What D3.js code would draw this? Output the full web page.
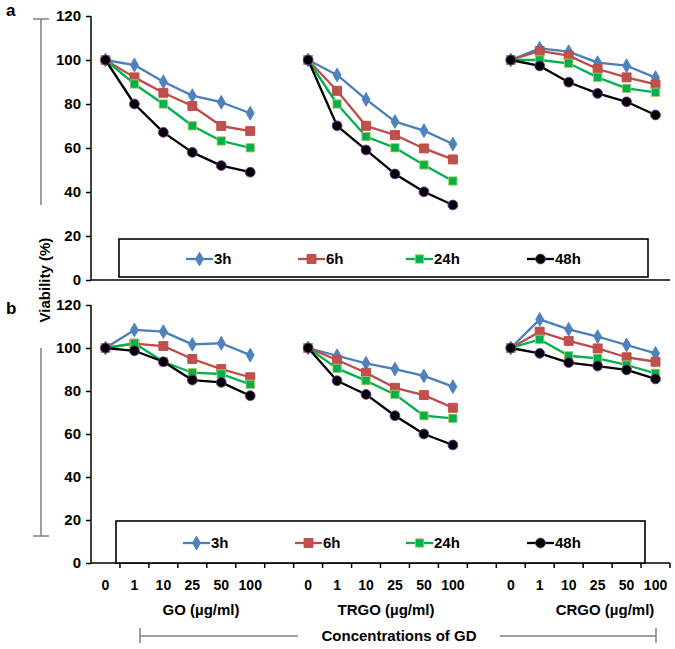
<!DOCTYPE html>
<html>
<head>
<meta charset="utf-8">
<script src="https://cdn.jsdelivr.net/npm/d3@7"></script>
<style>
  html, body { margin: 0; padding: 0; background: #fff; }
  svg { display: block; font-family: Arial, "Liberation Sans", sans-serif; font-weight: bold; }
</style>
</head>
<body>
<svg id="chart" width="675" height="649"></svg>
<script>
// ---------- data ----------
const groups = ["GO", "TRGO", "CRGO"];
const concentrations = ["0", "1", "10", "25", "50", "100"];
const seriesNames = ["3h", "6h", "24h", "48h"];
const yTicks = [0, 20, 40, 60, 80, 100, 120];
const groupLabels = ["GO (µg/ml)", "TRGO (µg/ml)", "CRGO (µg/ml)"];
const panelLabels = ["a", "b"];

// panel a values: GO(0..100), TRGO(0..100), CRGO(0..100)
const a3h  = [100, 97.7, 90.1, 83.8, 80.8, 75.8,  100, 93.2, 82.1, 72.0, 67.9, 61.8,  100, 105.3, 103.8, 98.8, 97.4, 92.0];
const a6h  = [100, 92.1, 85.1, 79.1, 70.0, 67.7,  100, 86.0, 70.1, 65.9, 59.8, 54.8,  100, 104.1, 102.0, 95.9, 92.1, 88.9];
const a24h = [100, 89.1, 80.0, 70.1, 63.2, 60.1,  100, 80.0, 65.2, 60.1, 52.3, 45.0,  100, 100.0, 98.5, 92.1, 87.1, 85.3];
const a48h = [100, 80.0, 67.1, 58.0, 52.0, 49.0,  100, 70.1, 59.1, 48.2, 40.1, 34.1,  100, 97.3, 89.9, 84.8, 81.0, 75.0];
// panel b values
const b3h  = [100, 108.4, 107.6, 101.7, 102.2, 96.7,  100, 96.4, 92.9, 90.2, 87.0, 82.0,  100, 113.3, 108.7, 105.3, 101.4, 97.5];
const b6h  = [100, 102.0, 100.9, 94.9, 90.2, 86.4,    100, 94.4, 88.5, 81.5, 78.1, 72.2,  100, 107.6, 103.3, 99.8, 95.7, 93.6];
const b24h = [100, 102.2, 93.6, 88.5, 87.9, 83.1,     100, 90.5, 84.8, 78.4, 68.5, 67.3,  100, 104.0, 96.4, 95.2, 92.1, 88.2];
const b48h = [100, 98.7, 93.6, 85.1, 84.0, 77.8,      100, 84.8, 78.4, 68.5, 60.0, 54.9,  100, 97.5, 93.2, 91.6, 89.8, 85.6];

// ---------- styles ----------
const styles = {
  "3h":  { line: "#4A7EBB", fill: "#4F81BD", stroke: "#4F81BD", shape: d3.symbolDiamond, size: 55 },
  "6h":  { line: "#BE4B48", fill: "#C0504D", stroke: "#B9473F", shape: d3.symbolSquare,  size: 80 },
  "24h": { line: "#00B050", fill: "#00B050", stroke: "#B5C95A", shape: d3.symbolSquare,  size: 70 },
  "48h": { line: "#000000", fill: "#000000", stroke: "#7030A0", shape: d3.symbolCircle,  size: 75 }
};

const svg = d3.select("#chart");

// x: 20 bands (6 per group + 1 gap between groups)
const keys = [];
groups.forEach((g, gi) => {
  concentrations.forEach(c => keys.push(g + "|" + c));
  if (gi < groups.length - 1) keys.push("gap" + gi);
});
const x = d3.scaleBand().domain(keys).range([91, 670]).paddingInner(0).paddingOuter(0);

const panels = [
  { label: panelLabels[0], y0: 280, y1: 16, data: { "3h": a3h, "6h": a6h, "24h": a24h, "48h": a48h },
    xTicks: false, legend: { left: 119, top: 239, right: 648, bottom: 277, cy: 259, starts: [186, 298, 406, 527] },
    labelPos: [6, 16], bracket: { x: 41, top: 19, bottom: 205, capAtTop: true } },
  { label: panelLabels[1], y0: 563, y1: 305, data: { "3h": b3h, "6h": b6h, "24h": b24h, "48h": b48h },
    xTicks: true, legend: { left: 116, top: 521, right: 645, bottom: 563, cy: 543, starts: [183, 295, 406, 527] },
    labelPos: [6, 314], bracket: { x: 41, top: 348, bottom: 536, capAtTop: false } }
];

panels.forEach(p => {
  const y = d3.scaleLinear().domain([0, 120]).range([p.y0, p.y1]);
  const g = svg.append("g");

  // y axis
  const yAxis = d3.axisLeft(y).tickValues(yTicks).tickSize(5).tickPadding(5);
  const ya = g.append("g").attr("transform", `translate(91,0)`).call(yAxis);
  ya.select(".domain").attr("stroke", "#000").attr("stroke-width", 1.5).attr("d", `M0,${p.y0}V${p.y1}`);
  ya.selectAll(".tick line").attr("stroke", "#000").attr("stroke-width", 1.5);
  ya.selectAll(".tick text").attr("font-size", 15).attr("font-weight", "bold").attr("fill", "#000")
    .attr("font-family", "Arial, 'Liberation Sans', sans-serif");
  // top cap tick at axis top
  // x axis
  if (p.xTicks) {
    const xAxis = d3.axisBottom(x).tickSize(0).tickFormat(k => k.startsWith("gap") ? "" : k.split("|")[1]).tickPadding(17);
    const xa = g.append("g").attr("transform", `translate(0,${p.y0})`).call(xAxis);
    xa.select(".domain").attr("stroke", "#000").attr("stroke-width", 1.5).attr("d", `M91,0H670`);
    xa.selectAll(".tick text").attr("font-size", 14).attr("font-weight", "bold").attr("fill", "#000")
      .attr("font-family", "Arial, 'Liberation Sans', sans-serif");
    // boundary tick marks
    const bounds = keys.map(k => x(k) + x.bandwidth());
    xa.selectAll(".bt").data(bounds).enter().append("line")
      .attr("x1", d => d).attr("x2", d => d).attr("y1", 0).attr("y2", 5)
      .attr("stroke", "#000").attr("stroke-width", 1.5);
  } else {
    g.append("line").attr("x1", 91).attr("x2", 670).attr("y1", p.y0).attr("y2", p.y0)
      .attr("stroke", "#000").attr("stroke-width", 1.5);
  }

  // series lines and markers
  seriesNames.forEach(s => {
    const vals = p.data[s];
    const st = styles[s];
    groups.forEach((gr, gi) => {
      const pts = concentrations.map((c, ci) => ({ k: gr + "|" + c, v: vals[gi * concentrations.length + ci] }));
      const line = d3.line().x(d => x(d.k) + x.bandwidth() / 2).y(d => y(d.v));
      g.append("path").datum(pts).attr("d", line).attr("fill", "none")
        .attr("stroke", st.line).attr("stroke-width", 2.3).attr("stroke-linejoin", "round");
      g.selectAll(null).data(pts).enter().append("path")
        .attr("d", d3.symbol().type(st.shape).size(st.size))
        .attr("transform", d => `translate(${x(d.k) + x.bandwidth() / 2},${y(d.v)})`)
        .attr("fill", st.fill).attr("stroke", st.stroke).attr("stroke-width", 0.9);
    });
  });

  // legend
  const L = p.legend;
  g.append("rect").attr("x", L.left).attr("y", L.top).attr("width", L.right - L.left).attr("height", L.bottom - L.top)
    .attr("fill", "#fff").attr("stroke", "#000").attr("stroke-width", 1.6);
  seriesNames.forEach((s, i) => {
    const st = styles[s];
    const x0 = L.starts[i];
    g.append("line").attr("x1", x0).attr("x2", x0 + 27).attr("y1", L.cy).attr("y2", L.cy)
      .attr("stroke", st.line).attr("stroke-width", 2.3);
    g.append("path").attr("d", d3.symbol().type(st.shape).size(st.size))
      .attr("transform", `translate(${x0 + 13.5},${L.cy})`)
      .attr("fill", st.fill).attr("stroke", st.stroke).attr("stroke-width", 0.9);
    g.append("text").attr("x", x0 + 28).attr("y", L.cy).attr("dy", "0.36em")
      .attr("font-size", 15).attr("fill", "#000").text(s);
  });

  // panel letter
  g.append("text").attr("x", p.labelPos[0]).attr("y", p.labelPos[1]).attr("font-size", 17).attr("fill", "#000").text(p.label);

  // gray bracket
  const B = p.bracket;
  g.append("line").attr("x1", B.x).attr("x2", B.x).attr("y1", B.top).attr("y2", B.bottom)
    .attr("stroke", "#7F7F7F").attr("stroke-width", 1.5);
  const capY = B.capAtTop ? B.top : B.bottom;
  g.append("line").attr("x1", B.x - 8).attr("x2", B.x + 8).attr("y1", capY).attr("y2", capY)
    .attr("stroke", "#7F7F7F").attr("stroke-width", 1.5);
});

// y axis title
svg.append("text").attr("transform", "translate(50,280) rotate(-90)").attr("text-anchor", "middle")
  .attr("font-size", 15).attr("fill", "#000").text("Viability (%)");

// group labels
const groupLabelX = [201, 386, 605];
groupLabels.forEach((t, i) => {
  svg.append("text").attr("x", groupLabelX[i]).attr("y", 615).attr("text-anchor", "middle")
    .attr("font-size", 15).attr("fill", "#000").text(t);
});

// concentration bracket
svg.append("text").attr("x", 399).attr("y", 641).attr("text-anchor", "middle")
  .attr("font-size", 15).attr("fill", "#000").text("Concentrations of GD");
svg.append("line").attr("x1", 140).attr("x2", 298).attr("y1", 636).attr("y2", 636).attr("stroke", "#7F7F7F").attr("stroke-width", 1.5);
svg.append("line").attr("x1", 500).attr("x2", 656).attr("y1", 636).attr("y2", 636).attr("stroke", "#7F7F7F").attr("stroke-width", 1.5);
svg.append("line").attr("x1", 140).attr("x2", 140).attr("y1", 628).attr("y2", 643).attr("stroke", "#7F7F7F").attr("stroke-width", 1.5);
svg.append("line").attr("x1", 656).attr("x2", 656).attr("y1", 628).attr("y2", 643).attr("stroke", "#7F7F7F").attr("stroke-width", 1.5);
</script>
</body>
</html>
